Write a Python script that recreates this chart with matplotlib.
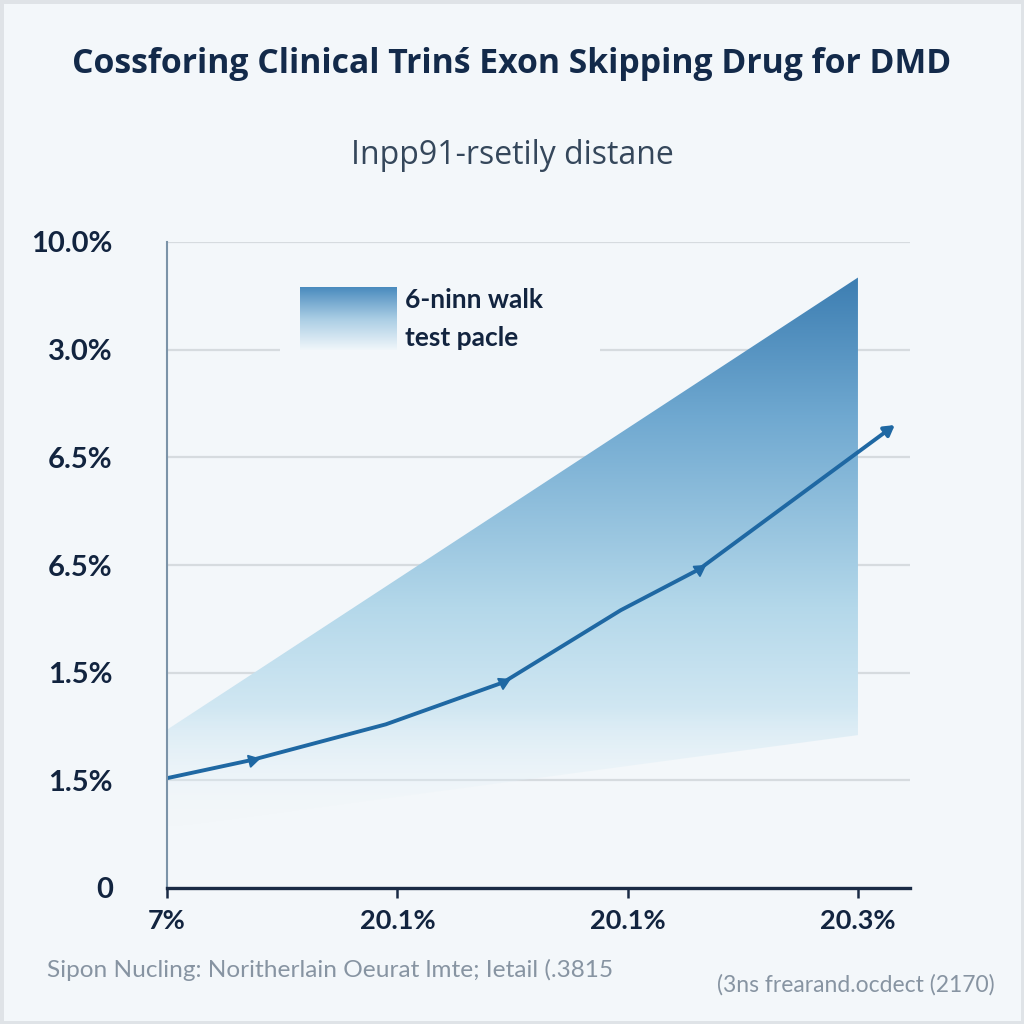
import numpy as np
import matplotlib
matplotlib.use("Agg")
import matplotlib.pyplot as plt
from matplotlib.patches import Polygon, Rectangle
from matplotlib.colors import LinearSegmentedColormap

plt.rcParams['font.family'] = ['Lato', 'DejaVu Sans']

# ---- data ----
title = "Cossforing Clinical Trinś Exon Skipping Drug for DMD"
subtitle = "Inpp91-rsetily distane"
legend_lines = ["6-ninn walk", "test pacle"]
footer_left = "Sipon Nucling: Noritherlain Oeurat lmte; Ietail (.3815"
footer_right = "(3ns frearand.ocdect (2170)"

x_ticks = [0, 1, 2, 3]
x_labels = ["7%", "20.1%", "20.1%", "20.3%"]
y_ticks = [0, 1, 2, 3, 4, 5, 6]
y_labels = ["0", "1.5%", "1.5%", "6.5%", "6.5%", "3.0%", "10.0%"]

line_x = [0.0, 0.37, 0.95, 1.46, 1.97, 2.31, 3.16]
line_y = [1.02, 1.19, 1.52, 1.91, 2.58, 2.96, 4.30]
marker_idx = [1, 3, 5]

band_x = [0.0, 3.0]
band_upper = [1.47, 5.67]
band_lower = [0.56, 1.42]

# ---- style ----
bg = "#f3f7fa"
navy = "#12243f"
line_c = "#1f68a3"

fig = plt.figure(figsize=(10.24, 10.24), dpi=100, facecolor=bg)
ax = fig.add_axes([167/1024, 1-888/1024, (910-167)/1024, (888-242)/1024])
ax.set_facecolor(bg)
ax.set_xlim(0, 3.226)
ax.set_ylim(0, 6)

# grid
for yv in y_ticks[1:]:
    ax.axhline(yv, color="#d6dbdf", lw=1.6, zorder=1)

# gradient band
poly_pts = [(band_x[0], band_lower[0]), (band_x[0], band_upper[0]),
            (band_x[1], band_upper[1]), (band_x[1], band_lower[1])]
poly = Polygon(poly_pts, closed=True, transform=ax.transData,
               facecolor='none', edgecolor='none')
ax.add_patch(poly)
ymin, ymax = min(band_lower), max(band_upper)
stops = [(0.0, "#eef6fa"), (0.18, "#d6eaf4"), (0.40, "#b4d8ea"),
         (0.75, "#6fa8d0"), (1.0, "#3d7eb2")]
cmap = LinearSegmentedColormap.from_list("band", stops)
n = 256
f = np.linspace(0, 1, n)
rgba = cmap(f)
rgba[:, 3] = np.clip(f / 0.22, 0, 1) ** 1.2
img = rgba.reshape(n, 1, 4)
im = ax.imshow(img, extent=[band_x[0], band_x[1], ymin, ymax], origin='lower',
               aspect='auto', zorder=2, interpolation='bilinear')
im.set_clip_path(poly)

# line
ax.plot(line_x[:-1], line_y[:-1], color=line_c, lw=2.8, zorder=4,
        solid_capstyle='round', solid_joinstyle='round')
ax.annotate("", xy=(line_x[-1], line_y[-1]), xytext=(line_x[-2], line_y[-2]),
            arrowprops=dict(arrowstyle="-|>,head_length=0.6,head_width=0.35",
                            color=line_c, lw=2.8, shrinkA=0, shrinkB=0), zorder=5)
for i in marker_idx:
    p0 = ax.transData.transform((line_x[i-1], line_y[i-1]))
    p1 = ax.transData.transform((line_x[i+1], line_y[i+1]))
    ang = np.degrees(np.arctan2(p1[1]-p0[1], p1[0]-p0[0]))
    ax.plot(line_x[i], line_y[i], marker=(3, 0, ang - 90), ms=10,
            color=line_c, zorder=5)

# spines
for s in ["top", "right"]:
    ax.spines[s].set_visible(False)
ax.spines["left"].set_color("#7b93a8")
ax.spines["left"].set_linewidth(1.5)
ax.spines["bottom"].set_color("#1a2b45")
ax.spines["bottom"].set_linewidth(2.4)
ax.spines["left"].set_zorder(6)
ax.spines["bottom"].set_zorder(6)

ax.set_xticks(x_ticks)
ax.set_xticklabels(x_labels)
ax.set_yticks(y_ticks)
ax.set_yticklabels(y_labels)
ax.tick_params(axis='x', length=7, width=1.8, color="#1a2b45", pad=8,
               labelsize=19.5, labelcolor=navy)
ax.tick_params(axis='y', length=0, pad=39, labelsize=21, labelcolor=navy)
for lab in ax.get_xticklabels() + ax.get_yticklabels():
    lab.set_fontweight('bold')

# legend box
fig.patches.append(Rectangle((280/1024, 1-378/1024), 320/1024, 110/1024,
                             transform=fig.transFigure, facecolor=bg,
                             edgecolor='none', zorder=1.5))
sw = fig.add_axes([300/1024, 1-350/1024, 97/1024, 63/1024], zorder=2)
sw_cmap = LinearSegmentedColormap.from_list("sw", ["#f0f6fa", "#a9cde4", "#4a8bbe"])
sw.imshow(np.linspace(0, 1, 128).reshape(-1, 1), cmap=sw_cmap, origin='lower',
          aspect='auto', extent=[0, 1, 0, 1])
sw.axis('off')
fig.text(405/1024, 1-300/1024, legend_lines[0], fontsize=19, fontweight='bold',
         color=navy, ha='left', va='center', zorder=3)
fig.text(405/1024, 1-338/1024, legend_lines[1], fontsize=19, fontweight='bold',
         color=navy, ha='left', va='center', zorder=3)

# titles
fig.text(0.5, 1-64/1024, title, fontsize=24.3, fontweight='bold', color="#132a4a",
         ha='center', va='center', family=['Open Sans', 'DejaVu Sans'])
fig.text(0.5, 1-155/1024, subtitle, fontsize=23, color="#35475b",
         ha='center', va='center', family=['Open Sans', 'DejaVu Sans'])

# footers
fig.text(47/1024, 1-970/1024, footer_left, fontsize=17.6, color="#8794a2",
         ha='left', va='center')
fig.text(995/1024, 1-985/1024, footer_right, fontsize=16.5, color="#8794a2",
         ha='right', va='center')

# frame
fig.patches.append(Rectangle((0, 0), 1, 1, transform=fig.transFigure,
                             facecolor='none', edgecolor="#dfe3e7", lw=5, zorder=10))

fig.savefig("out.png", dpi=100, facecolor=bg)
